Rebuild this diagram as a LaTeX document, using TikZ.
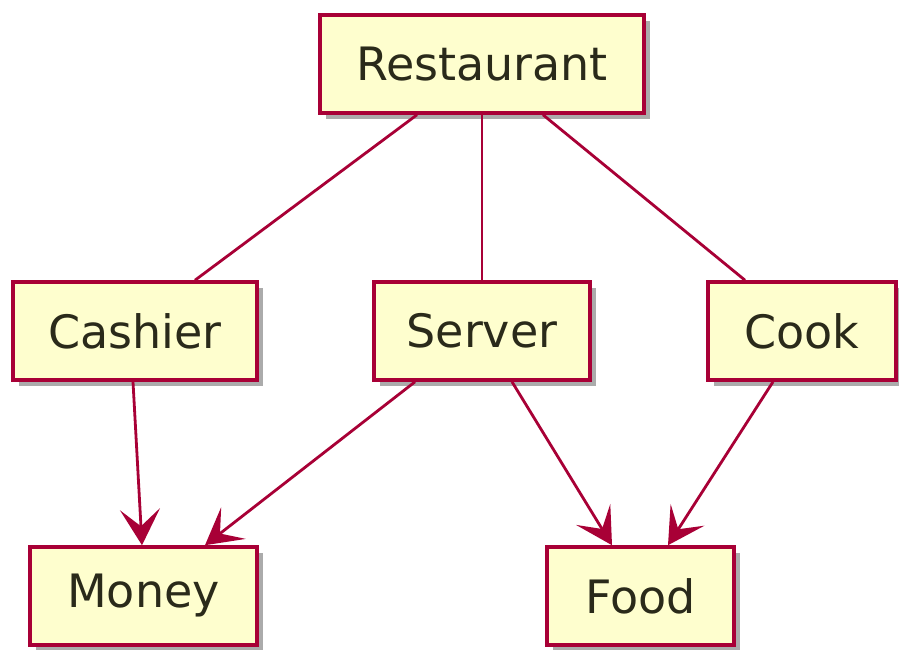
\documentclass[tikz,border=0pt]{standalone}
\usepackage{fontspec}
\setmainfont{DejaVu Sans}
\usetikzlibrary{shadows,arrows.meta}
\definecolor{boxfill}{HTML}{FEFECE}
\definecolor{boxline}{HTML}{A80036}
\definecolor{txt}{HTML}{2A2A1A}
\begin{document}
\begin{tikzpicture}[x=1pt,y=-1pt,
  cls/.style={draw=boxline, line width=3.6pt, fill=boxfill, minimum height=98pt,
    inner sep=0pt, text=txt, font=\fontsize{46}{50}\selectfont,
    drop shadow={shadow xshift=6pt, shadow yshift=-6pt, fill=black!55, opacity=.6}},
  link/.style={draw=boxline, line width=2.8pt},
  arr/.style={link, -{Stealth[length=36pt, width=40pt, inset=17pt]}}]
\useasboundingbox[fill=white] (0,0) rectangle (899,649);
\node[cls, minimum width=324pt] (rest) at (482,64) {Restaurant};
\node[cls, minimum width=244pt] (cash) at (135,331) {Cashier};
\node[cls, minimum width=216pt] (serv) at (482,331) {Server};
\node[cls, minimum width=188pt] (cook) at (802,331) {Cook};
\node[cls, minimum width=227pt] (money) at (143.5,596) {Money};
\node[cls, minimum width=187pt] (food) at (640.5,596) {Food};
\draw[link] ([xshift=-65pt]rest.south) -- ([xshift=60pt]cash.north);
\draw[link] (rest.south) -- (serv.north);
\draw[link] ([xshift=61pt]rest.south) -- ([xshift=-57pt]cook.north);
\draw[arr] ([xshift=-2pt]cash.south) -- ([xshift=-1.5pt]money.north);
\draw[arr] ([xshift=-67pt]serv.south) -- ([xshift=61.5pt]money.north);
\draw[arr] ([xshift=30pt]serv.south) -- ([xshift=-28.5pt]food.north);
\draw[arr] ([xshift=-29pt]cook.south) -- ([xshift=27.5pt]food.north);
\end{tikzpicture}
\end{document}
